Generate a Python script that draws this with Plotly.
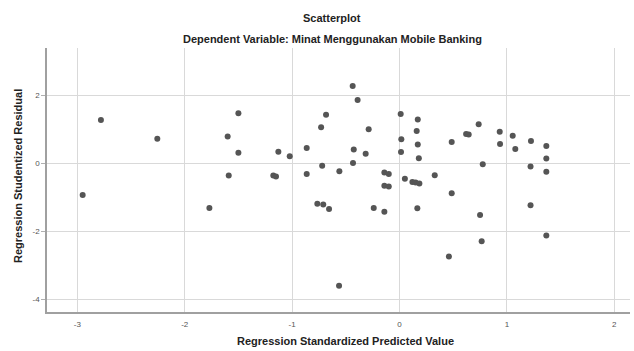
import plotly.graph_objects as go

# Regression Standardized Predicted Value
pred = [-2.95, -2.78, -2.255, -1.77, -1.60, -1.59, -1.50, -1.50,
        -1.175, -1.15, -1.128, -1.022, -0.864, -0.864,
        -0.765, -0.73, -0.72, -0.71, -0.684, -0.656, -0.563, -0.56,
        -0.436, -0.433, -0.426, -0.39, -0.315, -0.287, -0.24,
        -0.141, -0.141, -0.141, -0.10, -0.10,
        0.011, 0.014, 0.017, 0.05, 0.12, 0.15, 0.185,
        0.16, 0.166, 0.17, 0.17, 0.18,
        0.328, 0.46, 0.486, 0.486, 0.62, 0.644, 0.737, 0.75, 0.765, 0.775,
        0.933, 0.936, 1.054, 1.078, 1.22, 1.224, 1.22,
        1.367, 1.367, 1.367, 1.367]

# Regression Studentized Residual
resid = [-0.93, 1.27, 0.72, -1.31, 0.79, -0.36, 1.47, 0.31,
         -0.36, -0.39, 0.34, 0.21, 0.45, -0.31,
         -1.19, 1.06, -0.07, -1.21, 1.43, -1.34, -3.60, -0.23,
         2.27, 0.01, 0.41, 1.86, 0.28, 1.00, -1.31,
         -0.27, -0.66, -1.42, -0.31, -0.68,
         1.45, 0.33, 0.71, -0.45, -0.55, -0.56, -0.59,
         0.95, -1.32, 1.29, 0.55, 0.15,
         -0.35, -2.74, 0.63, -0.88, 0.86, 0.85, 1.15, -1.52, -2.29, -0.03,
         0.93, 0.57, 0.81, 0.42, -0.09, 0.66, -1.23,
         0.51, 0.14, -0.25, -2.12]

x_ticks = [-3, -2, -1, 0, 1, 2]
y_ticks = [2, 0, -2, -4]

title = "Scatterplot"
subtitle = "Dependent Variable: Minat Menggunakan Mobile Banking"
x_title = "Regression Standardized Predicted Value"
y_title = "Regression Studentized Residual"

font_family = "Liberation Sans, Arial, sans-serif"
W, H = 634, 351
ML, MR, MT, MB = 47, 4, 48, 39

fig = go.Figure()
fig.add_trace(go.Scatter(
    x=pred, y=resid, mode="markers",
    marker=dict(size=6, color="#555555", line=dict(width=0)),
    showlegend=False, hoverinfo="x+y"))


def px_to_paper(px, py):
    return (px - ML) / (W - ML - MR), (H - MB - py) / (H - MT - MB)


def label(text, px, py, angle=0):
    tx, ty = px_to_paper(px, py)
    return dict(text="<b>" + text + "</b>", x=tx, y=ty, xref="paper", yref="paper",
                showarrow=False, textangle=angle, font=dict(size=11, color="#222222"),
                xanchor="center", yanchor="middle")


ann = [
    label(title, 332, 18),
    label(subtitle, 332, 39),
    label(x_title, 346, 341),
    label(y_title, 18, 176, -90),
]

fig.update_layout(
    width=W, height=H,
    margin=dict(l=ML, r=MR, t=MT, b=MB, autoexpand=False),
    paper_bgcolor="white", plot_bgcolor="white",
    font=dict(family=font_family, color="#222222"),
    xaxis=dict(range=[-3.282, 2.146], tickvals=x_ticks, ticktext=[str(v) for v in x_ticks],
               showgrid=True, gridcolor="#d9d9d9", gridwidth=1.3, zeroline=False,
               showline=True, linecolor="#a0a0a0", linewidth=1.5,
               ticks="", tickfont=dict(size=8, color="#555555"), ticklabelstandoff=4),
    yaxis=dict(range=[-4.37, 3.39], tickvals=y_ticks, ticktext=[str(v) for v in y_ticks],
               showgrid=True, gridcolor="#d9d9d9", gridwidth=1.3, zeroline=False,
               showline=True, linecolor="#a0a0a0", linewidth=1.5,
               ticks="outside", ticklen=4, tickcolor="#b0b0b0",
               tickfont=dict(size=8, color="#555555")),
    annotations=ann,
)

fig.write_html("out.html", config={"displayModeBar": False})

# remove default browser body margin so the figure sits at the page origin
with open("out.html", "r", encoding="utf-8") as f:
    html = f.read()
html = html.replace("<head>", "<head><style>html,body{margin:0;padding:0;overflow:hidden;}</style>", 1)
with open("out.html", "w", encoding="utf-8") as f:
    f.write(html)
